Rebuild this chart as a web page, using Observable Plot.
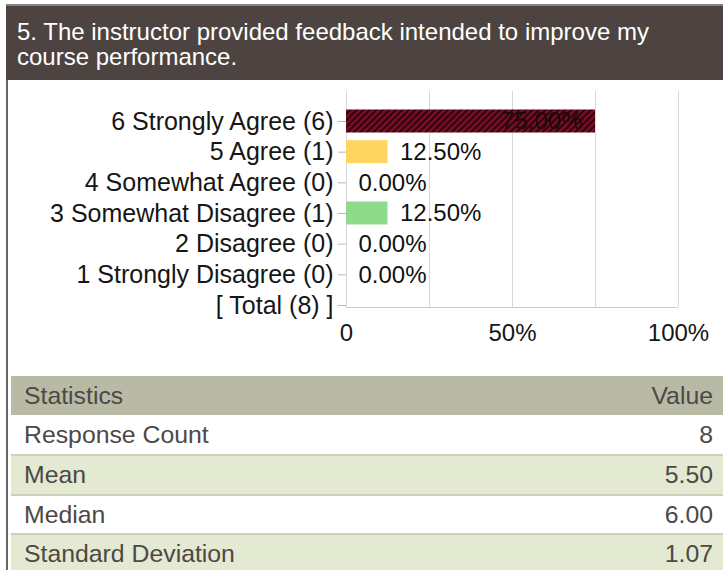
<!DOCTYPE html>
<html>
<head>
<meta charset="utf-8">
<script src="https://cdn.jsdelivr.net/npm/d3@7"></script>
<script src="https://cdn.jsdelivr.net/npm/@observablehq/plot@0.6"></script>
<style>
  html, body { margin: 0; padding: 0; background: #fff; }
  body { width: 723px; height: 570px; overflow: hidden; position: relative; font-family: "Liberation Sans", Arial, sans-serif; }
  #header { position: absolute; left: 6px; top: 4px; width: 717px; height: 76px; box-sizing: border-box; background: #4d4442; border-top: 2px solid #8a8381; color: #fff; font-size: 24px; line-height: 25px; padding: 13px 0 0 11px; white-space: nowrap; }
  #leftbar { position: absolute; left: 6px; top: 80px; width: 2px; height: 490px; background: #6b6462; }
  #chart { position: absolute; left: 8px; top: 80px; }
  #chart svg { overflow: visible; }
  #chart g[aria-label="y-axis tick"] { stroke: #b8b8b8 !important; }
  #chart g[aria-label="y-axis tick label"], #chart g[aria-label="y-axis tick label"] text { font-size: 25px !important; }
  #chart g[aria-label="y-axis"] .tick line { stroke: #b8b8b8 !important; }
  #chart g[aria-label="y-axis"] .tick text { font-size: 25px !important; }
  #stats { position: absolute; left: 11px; top: 376px; width: 712px; color: #4d4846; font-size: 24.8px; }
  .row { display: flex; justify-content: space-between; align-items: center; box-sizing: border-box; padding: 0 10px 0 13px; }
</style>
</head>
<body>
<div id="header"></div>
<div id="leftbar"></div>
<div id="chart"></div>
<div id="stats"></div>
<script>
// ---- data ----
const titleLines = ["5. The instructor provided feedback intended to improve my", "course performance."];
const categories = ["6 Strongly Agree (6)", "5 Agree (1)", "4 Somewhat Agree (0)", "3 Somewhat Disagree (1)", "2 Disagree (0)", "1 Strongly Disagree (0)", "[ Total (8) ]"];
const answers = categories.slice(0, 6);
const percents = [75, 12.5, 0, 12.5, 0, 0];
const barColors = ["url(#hatch)", "#fdd55f", "#ffffff", "#8ddb8b", "#ffffff", "#ffffff"];
const xTicks = [0, 50, 100];
const gridTicks = [0, 25, 50, 75, 100];
const statHeader = ["Statistics", "Value"];
const statLabels = ["Response Count", "Mean", "Median", "Standard Deviation"];
const statValues = ["8", "5.50", "6.00", "1.07"];

// ---- header ----
document.getElementById("header").innerHTML = titleLines.join("<br>");

// ---- chart ----
const data = answers.map((cat, i) => ({cat, pct: percents[i]}));
const fmt = d => d.pct.toFixed(2) + "%";

const chart = Plot.plot({
  width: 715,
  height: 277,
  marginLeft: 338,
  marginRight: 45,
  marginTop: 29.5,
  marginBottom: 40.5,
  style: {fontSize: "24px", fontFamily: "'Liberation Sans', Arial, sans-serif", color: "#161616", background: "transparent", overflow: "visible"},
  x: {domain: [0, 100], ticks: xTicks, tickFormat: d => d === 0 ? "0" : d + "%", tickSize: 0, tickPadding: 6.5, label: null},
  y: {type: "band", domain: categories, paddingInner: 0.25, paddingOuter: 0, align: 0.5, round: false, tickSize: 8, tickPadding: 5, label: null},
  color: {type: "ordinal", domain: answers, range: barColors},
  marks: [
    Plot.ruleX(gridTicks, {stroke: "#d8d8d8", strokeWidth: 1, insetTop: -18.5, insetBottom: 9.5}),
    Plot.ruleY([categories[6]], {stroke: "#cccccc", strokeWidth: 1, dy: 2}),
    Plot.barX(data, {x: "pct", y: "cat", fill: "cat"}),
    Plot.text(data.filter(d => d.pct < 50), {x: "pct", y: "cat", text: fmt, textAnchor: "start", dx: 12, fill: "#111"}),
    Plot.text(data.filter(d => d.pct >= 50), {x: "pct", y: "cat", text: fmt, textAnchor: "end", dx: -13, fill: "#1a0a0a"})
  ]
});
document.getElementById("chart").appendChild(chart);

const svg = d3.select(chart.tagName.toLowerCase() === "svg" ? chart : chart.querySelector("svg"));
const defs = svg.insert("defs", ":first-child");
const pat = defs.append("pattern").attr("id", "hatch").attr("patternUnits", "userSpaceOnUse")
  .attr("width", 4.6).attr("height", 4.6).attr("patternTransform", "rotate(45)");
pat.append("rect").attr("width", 4.6).attr("height", 4.6).attr("fill", "#760d25");
pat.append("line").attr("x1", 1).attr("y1", 0).attr("x2", 1).attr("y2", 4.6).attr("stroke", "#1a0006").attr("stroke-width", 1.5);

// ---- statistics table ----
const stats = d3.select("#stats");
const rowHeights = [39, 39, 40, 39, 40];
const rowBgs = ["#b8baa6", "#ffffff", "#e4e9d2", "#ffffff", "#e4e9d2"];
const rows = [statHeader].concat(statLabels.map((l, i) => [l, statValues[i]]));
rows.forEach((r, i) => {
  const div = stats.append("div").attr("class", "row")
    .style("height", rowHeights[i] + "px")
    .style("background", rowBgs[i])
    .style("border-top", i >= 2 ? "2px solid #cdd1bc" : "none");
  div.append("span").text(r[0]);
  div.append("span").text(r[1]);
});
</script>
</body>
</html>
